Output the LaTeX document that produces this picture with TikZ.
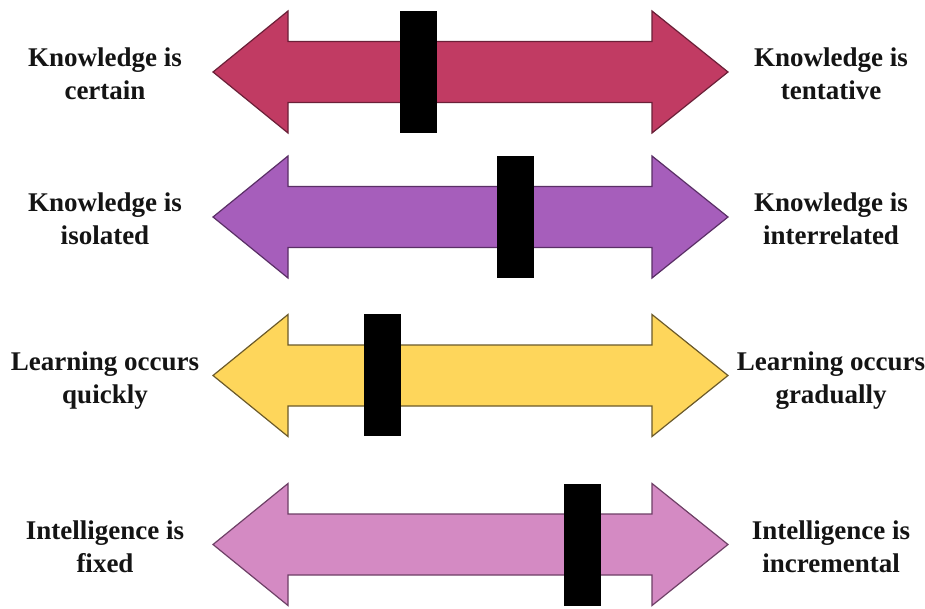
\documentclass[tikz,border=0pt]{standalone}
\usepackage{fontspec}
\setmainfont{Liberation Serif}
\definecolor{fillA}{HTML}{C13B63}
\definecolor{lineA}{HTML}{6B2038}
\definecolor{fillB}{HTML}{A65EBB}
\definecolor{lineB}{HTML}{5A2F66}
\definecolor{fillC}{HTML}{FED65B}
\definecolor{lineC}{HTML}{6B5A2A}
\definecolor{fillD}{HTML}{D48AC3}
\definecolor{lineD}{HTML}{6E4066}
\tikzset{
  lbl/.style={font=\rmfamily\bfseries\fontsize{27}{33}\selectfont, align=center, anchor=base, inner sep=0pt, text=black!92},
  barbox/.style={fill=black, draw=none, minimum width=37pt, minimum height=122pt, inner sep=0pt},
  dblarrow/.style={line width=1.2pt, line join=miter},
}
\newcommand\drawdbl[3]{%
  \path[dblarrow, fill=#2, draw=#3] (213,#1) -- (288,#1-61) -- (288,#1-30.5) -- (652,#1-30.5) -- (652,#1-61) -- (728,#1) -- (652,#1+61) -- (652,#1+30.5) -- (288,#1+30.5) -- (288,#1+61) -- cycle;%
}
\begin{document}
\begin{tikzpicture}[x=1pt,y=-1pt]
\useasboundingbox[fill=white] (0,0) rectangle (925,609);
% row 1
\drawdbl{72}{fillA}{lineA}
\node[barbox] (bar1) at (418.5,72) {};
\node[lbl] (l1) at (105,100) {Knowledge is\\certain};
\node[lbl] (r1) at (831,100) {Knowledge is\\tentative};
% row 2
\drawdbl{217}{fillB}{lineB}
\node[barbox] (bar2) at (515.5,217) {};
\node[lbl] (l2) at (105,245) {Knowledge is\\isolated};
\node[lbl] (r2) at (831,245) {Knowledge is\\interrelated};
% row 3
\drawdbl{375.5}{fillC}{lineC}
\node[barbox] (bar3) at (382.5,375) {};
\node[lbl] (l3) at (105,403) {Learning occurs\\quickly};
\node[lbl] (r3) at (831,403) {Learning occurs\\gradually};
% row 4
\drawdbl{544.5}{fillD}{lineD}
\node[barbox] (bar4) at (582,544.5) {};
\node[lbl] (l4) at (105,572) {Intelligence is\\fixed};
\node[lbl] (r4) at (831,572) {Intelligence is\\incremental};
\end{tikzpicture}
\end{document}
